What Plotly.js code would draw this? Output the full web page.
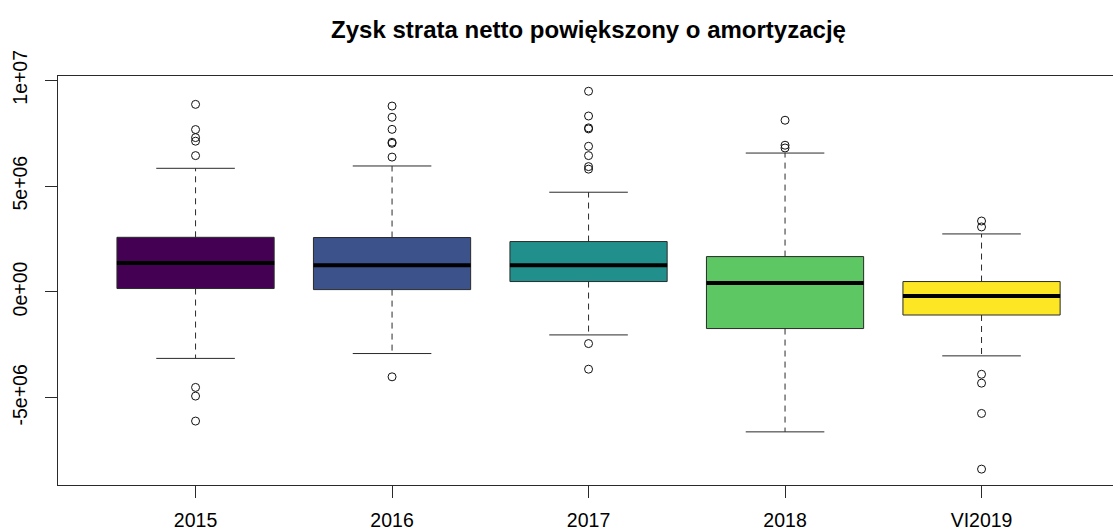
<!DOCTYPE html>
<html>
<head>
<meta charset="utf-8">
<script src="https://cdn.plot.ly/plotly-3.0.1.min.js"></script>
<style>html,body{margin:0;padding:0;background:#fff;}#chart{width:1113px;height:531px;}</style>
</head>
<body>
<div id="chart"></div>
<script>
const categories = ['2015', '2016', '2017', '2018', 'VI2019'];
const colors = ['#440154', '#3B528B', '#21908C', '#5DC863', '#FDE725'];
const lowerWhisker = [-3.14e6, -2.91e6, -2.03e6, -6.61e6, -3.02e6];
const q1 = [0.16e6, 0.11e6, 0.49e6, -1.73e6, -1.09e6];
const median = [1.37e6, 1.26e6, 1.26e6, 0.42e6, -0.19e6];
const q3 = [2.58e6, 2.57e6, 2.38e6, 1.67e6, 0.49e6];
const upperWhisker = [5.84e6, 5.95e6, 4.71e6, 6.56e6, 2.74e6];
const outliers2015 = [8.86e6, 7.67e6, 7.29e6, 7.12e6, 6.44e6, -4.51e6, -4.92e6, -6.10e6];
const outliers2016 = [8.78e6, 8.25e6, 7.68e6, 7.07e6, 7.02e6, 6.37e6, -4.01e6];
const outliers2017 = [9.48e6, 8.31e6, 7.75e6, 7.70e6, 6.88e6, 6.44e6, 5.92e6, 5.80e6, -2.44e6, -3.65e6];
const outliers2018 = [8.11e6, 6.93e6, 6.80e6];
const outliersVI2019 = [3.35e6, 3.07e6, -3.89e6, -4.31e6, -5.74e6, -8.37e6];
const outliers = [outliers2015, outliers2016, outliers2017, outliers2018, outliersVI2019];
const yTickVals = [-5e6, 0, 5e6, 1e7];
const yTickText = ['-5e+06', '0e+00', '5e+06', '1e+07'];

const boxWidth = 0.8;
const capHalf = 0.2;
const lineCol = '#2a2a2a';

const traces = [];
categories.forEach((c, i) => {
  const x = i + 1;
  traces.push({
    type: 'box', x: [x], q1: [q1[i]], median: [median[i]], q3: [q3[i]],
    lowerfence: [q1[i]], upperfence: [q3[i]],
    width: boxWidth, fillcolor: colors[i],
    line: {color: lineCol, width: 1}, whiskerwidth: 0,
    boxpoints: false, hoverinfo: 'skip', showlegend: false, name: c
  });
});

const wx = [], wy = [];
const cx = [], cy = [];
const mx = [], my = [];
const ox = [], oy = [];
categories.forEach((c, i) => {
  const x = i + 1;
  wx.push(x, x, null, x, x, null);
  wy.push(q3[i], upperWhisker[i], null, q1[i], lowerWhisker[i], null);
  cx.push(x - capHalf, x + capHalf, null, x - capHalf, x + capHalf, null);
  cy.push(upperWhisker[i], upperWhisker[i], null, lowerWhisker[i], lowerWhisker[i], null);
  mx.push(x - boxWidth / 2, x + boxWidth / 2, null);
  my.push(median[i], median[i], null);
  outliers[i].forEach(v => { ox.push(x); oy.push(v); });
});
traces.push({type: 'scatter', mode: 'lines', x: wx, y: wy, line: {color: lineCol, width: 1, dash: '6px,5px'}, hoverinfo: 'skip', showlegend: false});
traces.push({type: 'scatter', mode: 'lines', x: cx, y: cy, line: {color: lineCol, width: 1}, hoverinfo: 'skip', showlegend: false});
traces.push({type: 'scatter', mode: 'lines', x: mx, y: my, line: {color: '#000', width: 4}, hoverinfo: 'skip', showlegend: false});
traces.push({type: 'scatter', mode: 'markers', x: ox, y: oy, marker: {symbol: 'circle-open', size: 8, color: '#111', line: {width: 1, color: '#111'}}, hoverinfo: 'skip', showlegend: false});

const font = 'Liberation Sans, Arial, sans-serif';
const layout = {
  width: 1113, height: 531,
  margin: {l: 58, r: 0, t: 76, b: 46, pad: 0},
  paper_bgcolor: '#fff', plot_bgcolor: '#fff',
  boxmode: 'overlay',
  showlegend: false,
  title: {text: '<b>Zysk strata netto powiększony o amortyzację</b>', font: {family: font, size: 24, color: '#000'},
          xref: 'container', yref: 'container', x: 588.5 / 1113, y: 1 - 30 / 531, xanchor: 'center', yanchor: 'middle'},
  xaxis: {
    range: [0.3, 5.669], tickmode: 'array', tickvals: [1, 2, 3, 4, 5], ticktext: categories,
    ticks: 'outside', ticklen: 12, tickcolor: lineCol, tickwidth: 1,
    showline: true, linecolor: lineCol, linewidth: 1, mirror: true,
    showgrid: false, zeroline: false, ticklabelstandoff: 6,
    tickfont: {family: font, size: 19.5, color: '#000'}
  },
  yaxis: {
    range: [-9.12e6, 10.2e6], tickmode: 'array', tickvals: yTickVals, ticktext: yTickText,
    tickangle: -90, ticks: 'outside', ticklen: 12, tickcolor: lineCol, tickwidth: 1,
    showline: true, linecolor: lineCol, linewidth: 1, mirror: false,
    showgrid: false, zeroline: false, ticklabelstandoff: 10,
    tickfont: {family: font, size: 19.5, color: '#000'}
  }
};
Plotly.newPlot('chart', traces, layout, {displayModeBar: false, staticPlot: true});
</script>
</body>
</html>
